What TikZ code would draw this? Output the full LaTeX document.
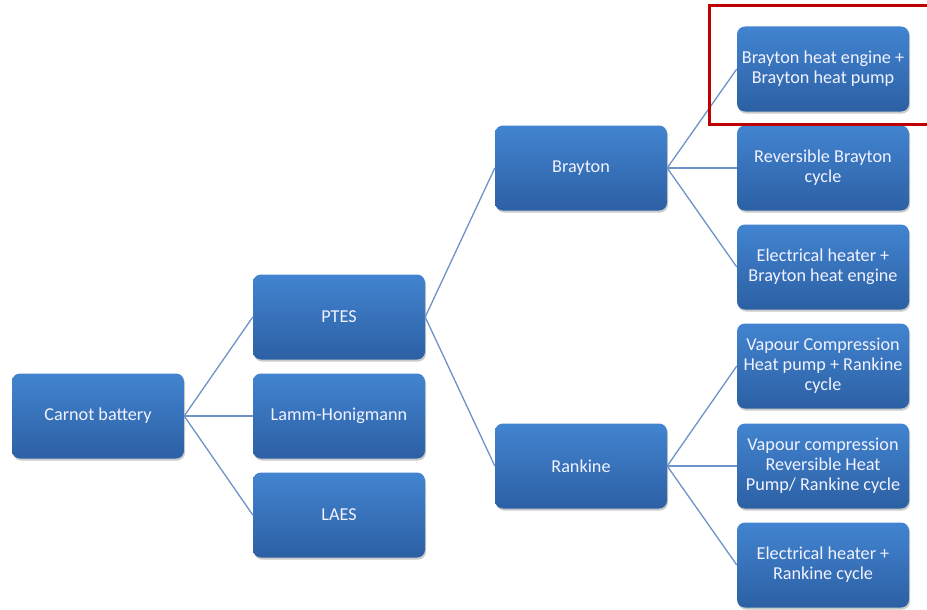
\documentclass[tikz,border=0pt]{standalone}
\usepackage{fontspec}
\setmainfont{Carlito}
\usetikzlibrary{shadows}
\definecolor{boxtop}{RGB}{66,132,208}
\definecolor{boxbot}{RGB}{44,96,164}
\definecolor{linkc}{RGB}{110,145,200}
\definecolor{redc}{RGB}{192,0,0}
\tikzset{
  box/.style={rectangle, rounded corners=8pt, minimum width=172pt, minimum height=85pt,
    top color=boxtop, bottom color=boxbot, draw=none, text=white!95!blue, align=center,
    font=\fontsize{18.2}{20}\selectfont, inner sep=2pt,
    drop shadow={shadow xshift=1pt, shadow yshift=-2pt, opacity=0.35, fill=black!60}},
  link/.style={draw=linkc, line width=1.3pt}
}
\begin{document}
\begin{tikzpicture}[x=1pt,y=-1pt]
\useasboundingbox (0,0) rectangle (927,610);
\node[box] (cb) at (98,416) {Carnot battery};
\node[box] (ptes) at (339,317) {PTES};
\node[box] (lh) at (339,416) {Lamm-Honigmann};
\node[box] (laes) at (339,515) {LAES};
\node[box] (bray) at (581,168) {Brayton};
\node[box] (rank) at (581,466) {Rankine};
\node[box] (r1) at (823,69) {Brayton heat engine +\\Brayton heat pump};
\node[box] (r2) at (823,168) {Reversible Brayton\\cycle};
\node[box] (r3) at (823,267) {Electrical heater +\\Brayton heat engine};
\node[box] (r4) at (823,366) {Vapour Compression\\Heat pump + Rankine\\cycle};
\node[box] (r5) at (823,466) {Vapour compression\\Reversible Heat\\Pump/ Rankine cycle};
\node[box] (r6) at (823,565) {Electrical heater +\\Rankine cycle};
\foreach \a/\b in {cb/ptes, cb/lh, cb/laes, ptes/bray, ptes/rank, bray/r1, bray/r2, bray/r3, rank/r4, rank/r5, rank/r6}
  \draw[link] (\a.east) -- (\b.west);
\draw[redc, line width=3.5pt] (935,5.5) -- (709.5,5.5) -- (709.5,124.5) -- (935,124.5);
\end{tikzpicture}
\end{document}
